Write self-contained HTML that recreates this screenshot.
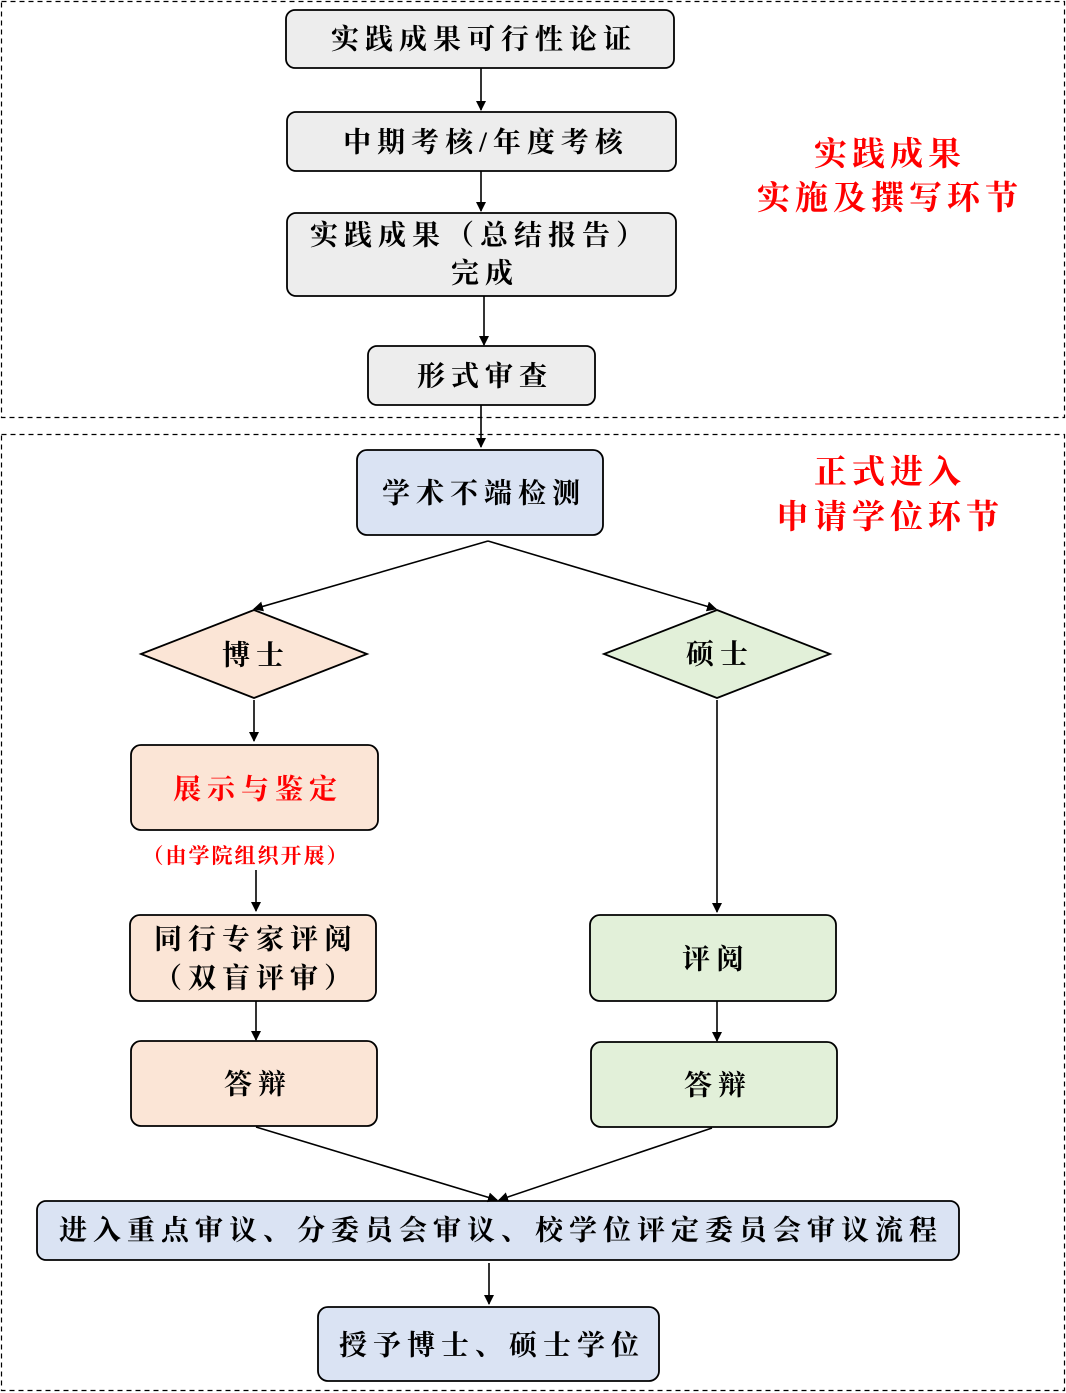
<!DOCTYPE html>
<html><head><meta charset="utf-8"><style>
html,body{margin:0;padding:0;background:#fff;}
svg{display:block;}
text{font-family:"Liberation Serif","Noto Serif CJK SC",serif;fill:#000;text-anchor:middle;dominant-baseline:central;font-weight:bold;}
.r{fill:#ff0000;}
</style></head><body>
<svg width="1066" height="1393" viewBox="0 0 1066 1393" xmlns="http://www.w3.org/2000/svg">
<defs><marker id="a" markerWidth="10" markerHeight="10" refX="9" refY="5" orient="auto" markerUnits="userSpaceOnUse"><path d="M0,0 L10,5 L0,10 z" fill="#000"/></marker></defs>
<rect x="1.5" y="1.5" width="1063" height="416" fill="none" stroke="#000" stroke-width="1.2" stroke-dasharray="5,4"/>
<rect x="1.5" y="434.5" width="1063" height="956" fill="none" stroke="#000" stroke-width="1.2" stroke-dasharray="5,4"/>
<g stroke="#000" stroke-width="1.8">
<rect x="286" y="10" width="388" height="58" rx="9" fill="#ededed"/>
<rect x="287" y="112" width="389" height="59" rx="9" fill="#ededed"/>
<rect x="287" y="213" width="389" height="83" rx="9" fill="#ededed"/>
<rect x="368" y="346" width="227" height="59" rx="9" fill="#ededed"/>
<rect x="357" y="450" width="246" height="85" rx="10" fill="#dae3f3"/>
<polygon points="141,654 254,610 367,654 254,698" fill="#fbe5d6"/>
<polygon points="604,654 717,610 830,654 717,698" fill="#e2f0d9"/>
<rect x="131" y="745" width="247" height="85" rx="10" fill="#fbe5d6"/>
<rect x="130" y="915" width="246" height="86" rx="10" fill="#fbe5d6"/>
<rect x="131" y="1041" width="246" height="85" rx="10" fill="#fbe5d6"/>
<rect x="590" y="915" width="246" height="86" rx="10" fill="#e2f0d9"/>
<rect x="591" y="1042" width="246" height="85" rx="10" fill="#e2f0d9"/>
<rect x="37" y="1201" width="922" height="59" rx="9" fill="#dae3f3"/>
<rect x="318" y="1307" width="341" height="74" rx="10" fill="#dae3f3"/>
</g>
<g stroke="#000" stroke-width="1.6" fill="none" marker-end="url(#a)">
<line x1="481" y1="68" x2="481" y2="110"/>
<line x1="481" y1="171" x2="481" y2="211"/>
<line x1="484" y1="296" x2="484" y2="345"/>
<line x1="481" y1="405" x2="481" y2="447"/>
<line x1="488" y1="541" x2="254" y2="609"/>
<line x1="488" y1="541" x2="716" y2="609"/>
<line x1="254" y1="700" x2="254" y2="741"/>
<line x1="256" y1="870" x2="256" y2="911"/>
<line x1="256" y1="1001" x2="256" y2="1040"/>
<line x1="717" y1="700" x2="717" y2="912"/>
<line x1="717" y1="1001" x2="717" y2="1041"/>
<line x1="256" y1="1127" x2="497" y2="1200"/>
<line x1="712" y1="1128" x2="499" y2="1200"/>
<line x1="489" y1="1263" x2="489" y2="1304"/>
</g>
<g font-size="28" letter-spacing="6">
<text x="484" y="40">实践成果可行性论证</text>
<text x="486" y="143">中期考核/年度考核</text>
<text x="480" y="236">实践成果（总结报告）</text>
<text x="485" y="274">完成</text>
<text x="485" y="377">形式审查</text>
<text x="484" y="494">学术不端检测</text>
<text x="256" y="656">博士</text>
<text x="720" y="655">硕士</text>
<text x="258" y="790" class="r">展示与鉴定</text>
<text x="256" y="940">同行专家评阅</text>
<text x="256" y="979">（双盲评审）</text>
<text x="258" y="1085">答辩</text>
<text x="716" y="960">评阅</text>
<text x="718" y="1086">答辩</text>
<text x="501" y="1231">进入重点审议、分委员会审议、校学位评定委员会审议流程</text>
<text x="492" y="1346">授予博士、硕士学位</text>
</g>
<text x="246" y="856" font-size="21" class="r" letter-spacing="2">（由学院组织开展）</text>
<g font-size="33" class="r" letter-spacing="5">
<text x="890" y="155" class="r">实践成果</text>
<text x="890" y="199" class="r">实施及撰写环节</text>
<text x="890" y="473" class="r">正式进入</text>
<text x="890" y="518" class="r">申请学位环节</text>
</g>
</svg>
</body></html>
